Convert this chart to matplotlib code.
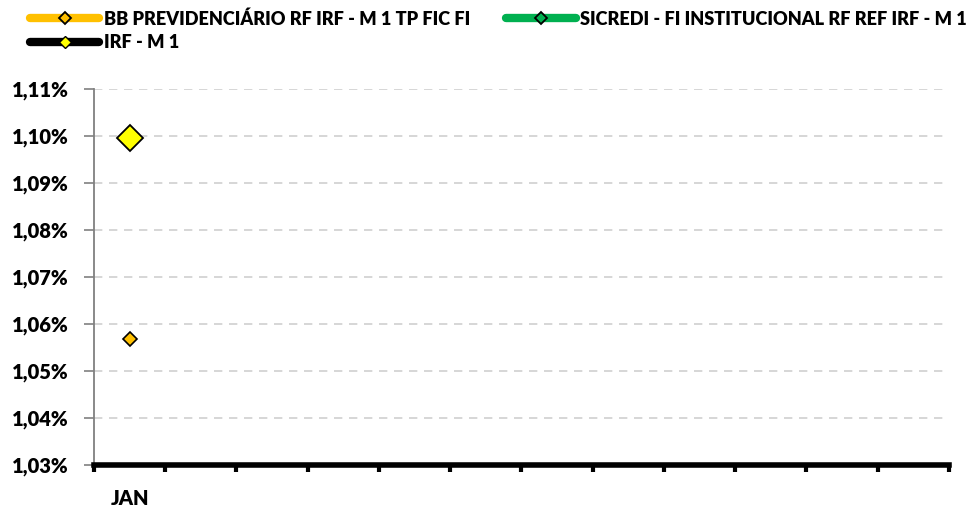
import numpy as np
import matplotlib.pyplot as plt
from matplotlib.lines import Line2D

plt.rcParams['font.family'] = ['Lato', 'DejaVu Sans']
plt.rcParams['font.weight'] = 'bold'

months = ["JAN", "", "", "", "", "", "", "", "", "", "", ""]
bb_prev = [1.0568] + [np.nan] * 11
sicredi = [np.nan] * 12
irf_m1 = [1.0996] + [np.nan] * 11

series_names = ["BB PREVIDENCIÁRIO RF IRF - M 1 TP FIC FI",
                "SICREDI - FI INSTITUCIONAL RF REF IRF - M 1",
                "IRF - M 1"]

yticks = [1.03, 1.04, 1.05, 1.06, 1.07, 1.08, 1.09, 1.10, 1.11]

fig = plt.figure(figsize=(9.78, 5.11), dpi=100)
ax = fig.add_axes([94 / 978, 46 / 511, 855 / 978, 376 / 511])

x = np.arange(len(months))
ax.plot(x, bb_prev, linestyle='none', marker='D', markersize=7,
        markerfacecolor='#FFC000', markeredgecolor='black', markeredgewidth=1.2, zorder=3)
ax.plot(x, sicredi, linestyle='none', marker='D', markersize=7,
        markerfacecolor='#00B050', markeredgecolor='black', markeredgewidth=1.2, zorder=3)
ax.plot(x, irf_m1, linestyle='none', marker='D', markersize=13,
        markerfacecolor='#FFFF00', markeredgecolor='black', markeredgewidth=1.3, zorder=4)

ax.set_xlim(-0.5, len(months) - 0.5)
ax.set_ylim(1.03, 1.11)
ax.set_yticks(yticks)
ax.set_yticklabels([f"{v:.2f}%".replace('.', ',') for v in yticks],
                   fontsize=14.5, fontweight='heavy')
ax.yaxis.grid(True, linestyle=(0, (5, 4)), color='#D0D0D0', linewidth=1.2)
ax.set_axisbelow(True)

# category boundaries carry the ticks, labels sit at the centers
ax.set_xticks(np.arange(-0.5, len(months), 1.0))
ax.set_xticklabels([])
ax.set_xticks(x, minor=True)
ax.set_xticklabels(months, minor=True, fontsize=14.5, fontweight='heavy')
ax.tick_params(axis='x', which='major', direction='out', length=5, width=3, color='black')
ax.tick_params(axis='x', which='minor', length=0, pad=17)
ax.tick_params(axis='y', direction='out', length=7, width=1.2, color='#808080', pad=11)

for side in ('top', 'right'):
    ax.spines[side].set_visible(False)
ax.spines['left'].set_color('#808080')
ax.spines['left'].set_linewidth(1.3)
ax.spines['bottom'].set_color('black')
ax.spines['bottom'].set_linewidth(4)

handles = [
    Line2D([], [], color='#FFC000', linewidth=6, solid_capstyle='round', marker='D', markersize=6,
           markerfacecolor='#FFC000', markeredgecolor='black', markeredgewidth=1.3),
    Line2D([], [], color='black', linewidth=6, solid_capstyle='round', marker='D', markersize=6,
           markerfacecolor='#FFFF00', markeredgecolor='black', markeredgewidth=1.0),
    Line2D([], [], color='#00B050', linewidth=6, solid_capstyle='round', marker='D', markersize=6,
           markerfacecolor='#00B050', markeredgecolor='black', markeredgewidth=1.3),
]
labels = [series_names[0], series_names[2], series_names[1]]
fig.legend(handles, labels, ncol=2, loc='upper left', bbox_to_anchor=(0.014, 1.012),
           frameon=False, handlelength=3.8, handletextpad=0.25, columnspacing=2.0,
           labelspacing=0.35, prop={'weight': 'heavy', 'size': 13.1})

fig.savefig('out.png', dpi=100)
